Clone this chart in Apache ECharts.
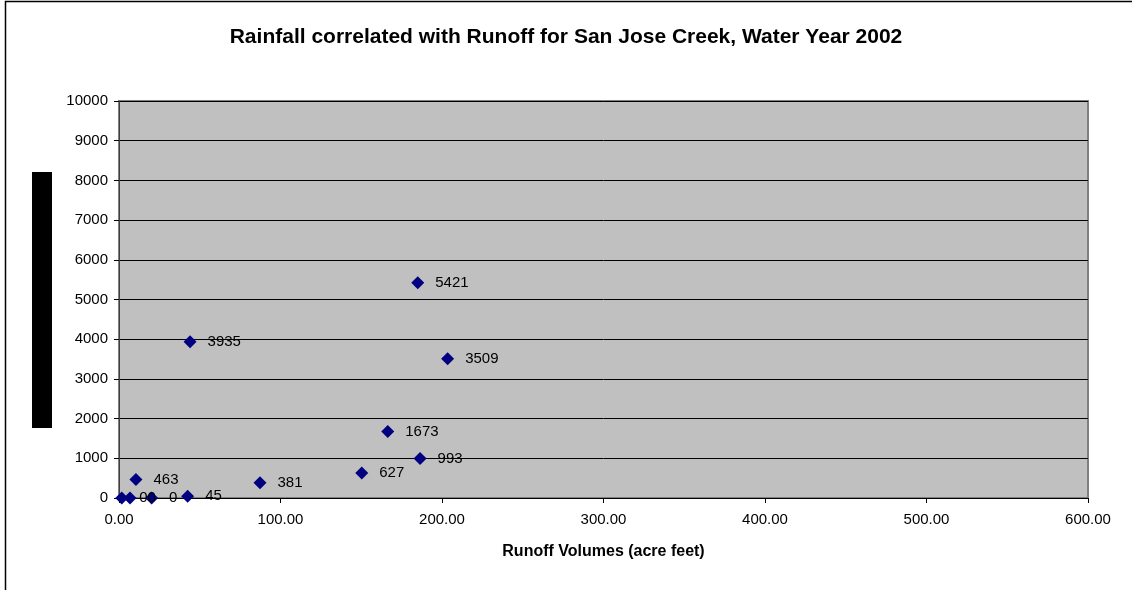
<!DOCTYPE html>
<html>
<head>
<meta charset="utf-8">
<title>Rainfall vs Runoff</title>
<script src="https://cdn.jsdelivr.net/npm/echarts@6/dist/echarts.min.js"></script>
<style>
  html, body { margin: 0; padding: 0; background: #fff; }
  #chart { width: 1132px; height: 590px; }
</style>
</head>
<body>
<div id="chart"></div>
<script>
// runoff volumes (acre feet) and rainfall values
const runoff = [1.7, 6.8, 10.5, 20.2, 42.5, 44, 87.3, 150.3, 166.4, 185, 186.4, 203.5];
const rainfall = [0, 0, 463, 0, 45, 3935, 381, 627, 1673, 5421, 993, 3509];
const xTicks = [0, 100, 200, 300, 400, 500, 600];
const yTicks = [0, 1000, 2000, 3000, 4000, 5000, 6000, 7000, 8000, 9000, 10000];

const font = '"Liberation Sans", Arial, sans-serif';
const chart = echarts.init(document.getElementById('chart'));

const points = runoff.map((x, i) => [x, rainfall[i]]);

chart.setOption({
  animation: false,
  title: {
    text: 'Rainfall correlated with Runoff for San Jose Creek, Water Year 2002',
    left: 'center',
    top: 22,
    textStyle: { fontFamily: font, fontSize: 21, fontWeight: 'bold', color: '#000' }
  },
  grid: {
    left: 119, right: 44, top: 101, bottom: 92,
    show: true,
    backgroundColor: '#C0C0C0',
    borderColor: '#808080',
    borderWidth: 2
  },
  xAxis: {
    type: 'value',
    min: xTicks[0],
    max: xTicks[xTicks.length - 1],
    interval: 100,
    name: 'Runoff Volumes (acre feet)',
    nameLocation: 'middle',
    nameGap: 46,
    nameTextStyle: { fontFamily: font, fontSize: 16, fontWeight: 'bold', color: '#000' },
    axisLine: { show: true, lineStyle: { color: '#000', width: 1 } },
    axisTick: { show: true, length: 5, lineStyle: { color: '#000' } },
    axisLabel: {
      margin: 14,
      fontFamily: font, fontSize: 15, color: '#000',
      formatter: v => v.toFixed(2)
    },
    splitLine: { show: false }
  },
  yAxis: {
    type: 'value',
    min: yTicks[0],
    max: yTicks[yTicks.length - 1],
    interval: 1000,
    axisLine: { show: true, lineStyle: { color: '#404040', width: 1 } },
    axisTick: { show: true, length: 5, lineStyle: { color: '#000' } },
    axisLabel: {
      margin: 11, fontFamily: font, fontSize: 15, color: '#000',
      formatter: v => String(v)
    },
    splitLine: { show: true, lineStyle: { color: '#000', width: 1 } }
  },
  series: [{
    type: 'scatter',
    data: points,
    symbol: 'diamond',
    symbolSize: 13,
    itemStyle: { color: '#000080', opacity: 1 },
    label: {
      show: true,
      position: 'right',
      distance: 11,
      fontFamily: font, fontSize: 15, color: '#000',
      formatter: p => String(p.value[1])
    }
  }],
  graphic: [
    {
      type: 'rect',
      shape: { x: 5.5, y: 1.5, width: 1140, height: 600 },
      style: { fill: null, stroke: '#000', lineWidth: 1.5 },
      silent: true
    },
    {
      type: 'rect',
      shape: { x: 32, y: 172, width: 20, height: 256 },
      style: { fill: '#000' },
      silent: true
    }
  ]
});
</script>
</body>
</html>
